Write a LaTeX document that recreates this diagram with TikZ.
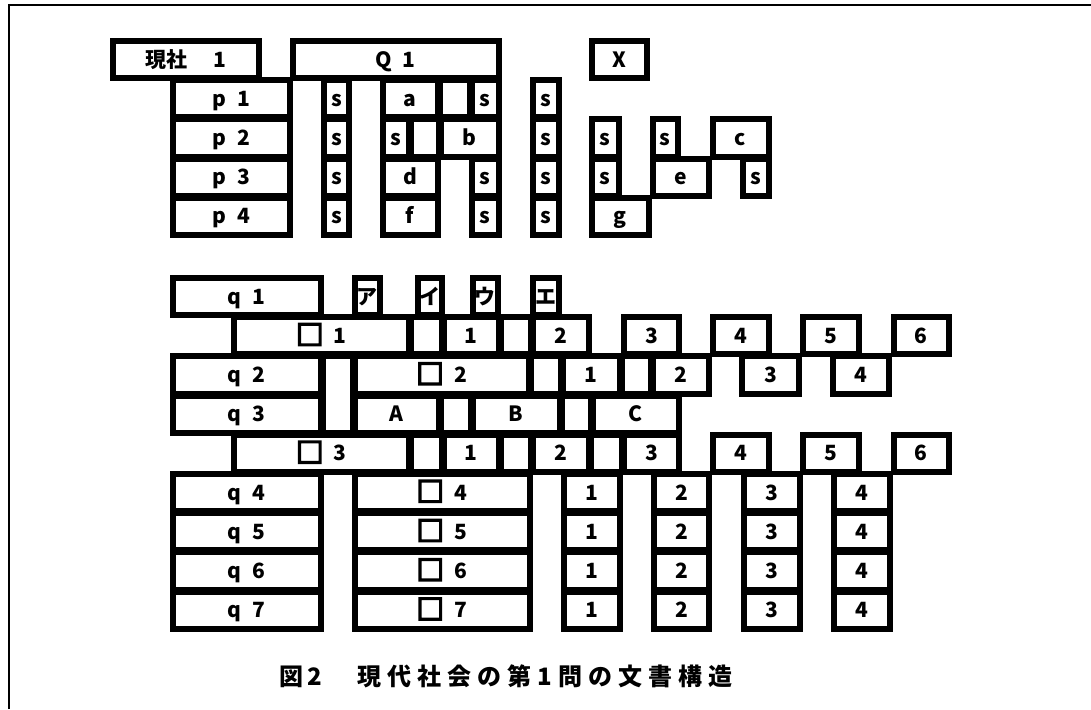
\documentclass[tikz,border=0pt]{standalone}
\usepackage{fontspec}
\setmainfont{Noto Sans CJK JP}
\newfontfamily\captionfont{Noto Sans CJK JP}[LetterSpace=25]
\newfontfamily\markfont{Noto Sans CJK JP}[FakeBold=8]
\newcommand{\sqmark}{{\markfont\mdseries\fontsize{27}{27}\selectfont\raisebox{-1.5pt}{□}}}
\tikzset{
    cell_box/.style={rectangle, draw=black, line width=6pt, inner sep=0pt, text centered, text height=15pt, text depth=0pt, font=\bfseries\fontsize{21}{21}\selectfont},
    cell_at/.style args={#1/#2/#3/#4}{at={({(#1+#3)/2},{(#2+#4)/2})}, minimum width={#3-#1-2}, minimum height={#4-#2-2}},
    frame_line/.style={line width=2pt},
    caption_text/.style={anchor=west, inner sep=0pt, font=\captionfont\bfseries\fontsize{24}{24}\selectfont},
}

\begin{document}
\begin{tikzpicture}[x=1pt, y=-1pt]
      \useasboundingbox (0,0) rectangle (1091,709);
      %%%%%%%%%
      % Frame %
      %%%%%%%%%
      \draw [frame_line] (8.5,709) -- (8.5,5) -- (1091,5);

      %%%%%%%%%%%%%
      % Upper row %
      %%%%%%%%%%%%%
      \node (gensha) [cell_box, cell_at={112/40/260/79.2}]
          {現社\hspace{26pt}1};
      \node (qone) [cell_box, cell_at={292/40/499.5/79.2}]
          {Q\enspace 1};
      \node (xbox) [cell_box, cell_at={590.5/40/648/79.2}]
          {X};

      \node (p1) [cell_box, cell_at={172/79.2/291/118.4}]
          {p\enspace 1};
      \node (p2) [cell_box, cell_at={172/118.4/291/157.6}]
          {p\enspace 2};
      \node (p3) [cell_box, cell_at={172/157.6/291/196.8}]
          {p\enspace 3};
      \node (p4) [cell_box, cell_at={172/196.8/291/236}]
          {p\enspace 4};

      \node (s11) [cell_box, cell_at={323/79.2/350/118.4}]
          {s};
      \node (s12) [cell_box, cell_at={323/118.4/350/157.6}]
          {s};
      \node (s13) [cell_box, cell_at={323/157.6/350/196.8}]
          {s};
      \node (s14) [cell_box, cell_at={323/196.8/350/236}]
          {s};

      % under Q 1
      \node (a) [cell_box, cell_at={381.5/79.2/438.5/118.4}]
          {a};
      \node (blank1) [cell_box, cell_at={438.5/79.2/470.5/118.4}]
          {};
      \node (s21) [cell_box, cell_at={470.5/79.2/499.5/118.4}]
          {s};
      \node (s22) [cell_box, cell_at={381.5/118.4/410/157.6}]
          {s};
      \node (blank2) [cell_box, cell_at={410/118.4/440/157.6}]
          {};
      \node (b) [cell_box, cell_at={440/118.4/499.5/157.6}]
          {b};
      \node (d) [cell_box, cell_at={381.5/157.6/438.5/196.8}]
          {d};
      \node (s23) [cell_box, cell_at={470.5/157.6/499.5/196.8}]
          {s};
      \node (f) [cell_box, cell_at={381.5/196.8/438.5/236}]
          {f};
      \node (s24) [cell_box, cell_at={470.5/196.8/499.5/236}]
          {s};

      \node (s31) [cell_box, cell_at={531.5/79.2/560/118.4}]
          {s};
      \node (s32) [cell_box, cell_at={531.5/118.4/560/157.6}]
          {s};
      \node (s33) [cell_box, cell_at={531.5/157.6/560/196.8}]
          {s};
      \node (s34) [cell_box, cell_at={531.5/196.8/560/236}]
          {s};

      % under X
      \node (s41) [cell_box, cell_at={590.5/118.4/620/157.6}]
          {s};
      \node (s42) [cell_box, cell_at={590.5/157.6/620/196.8}]
          {s};
      \node (g) [cell_box, cell_at={590.5/196.8/650/236}]
          {g};
      \node (s51) [cell_box, cell_at={651.5/118.4/678.5/157.6}]
          {s};
      \node (e) [cell_box, cell_at={651.5/157.6/709.5/196.8}]
          {e};
      \node (c) [cell_box, cell_at={711.5/118.4/769.5/157.6}]
          {c};
      \node (s61) [cell_box, cell_at={741.5/157.6/769.5/196.8}]
          {s};

      %%%%%%%%%%%%%
      % Lower row %
      %%%%%%%%%%%%%
      \node (q1) [cell_box, cell_at={171.5/277/321.5/316.2}]
          {q\enspace 1};
      \node (kata_a) [cell_box, cell_at={353.5/277/380.5/316.2}]
          {ア};
      \node (kata_i) [cell_box, cell_at={416.5/277/442.5/316.2}]
          {イ};
      \node (kata_u) [cell_box, cell_at={471.5/277/499/316.2}]
          {ウ};
      \node (kata_e) [cell_box, cell_at={532/277/559.5/316.2}]
          {エ};

      \node (box1) [cell_box, cell_at={233/316.2/410/355.4}]
          {\sqmark\enspace 1};
      \node (blank3) [cell_box, cell_at={410/316.2/442.5/355.4}]
          {};
      \node (n11) [cell_box, cell_at={442.5/316.2/500/355.4}]
          {1};
      \node (blank4) [cell_box, cell_at={500/316.2/531.5/355.4}]
          {};
      \node (n12) [cell_box, cell_at={531.5/316.2/590/355.4}]
          {2};
      \node (n13) [cell_box, cell_at={623/316.2/680/355.4}]
          {3};
      \node (n14) [cell_box, cell_at={712/316.2/770/355.4}]
          {4};
      \node (n15) [cell_box, cell_at={802/316.2/860/355.4}]
          {5};
      \node (n16) [cell_box, cell_at={892.5/316.2/950/355.4}]
          {6};

      \node (q2) [cell_box, cell_at={171.5/355.4/321.5/394.6}]
          {q\enspace 2};
      \node (blank5) [cell_box, cell_at={321.5/355.4/353.5/433.8}]
          {};
      \node (box2) [cell_box, cell_at={353.5/355.4/530/394.6}]
          {\sqmark\enspace 2};
      \node (blank6) [cell_box, cell_at={530/355.4/561.5/394.6}]
          {};
      \node (n21) [cell_box, cell_at={561.5/355.4/621/394.6}]
          {1};
      \node (blank7) [cell_box, cell_at={621/355.4/651.5/394.6}]
          {};
      \node (n22) [cell_box, cell_at={651.5/355.4/710/394.6}]
          {2};
      \node (n23) [cell_box, cell_at={741/355.4/800/394.6}]
          {3};
      \node (n24) [cell_box, cell_at={832/355.4/890/394.6}]
          {4};

      \node (q3) [cell_box, cell_at={171.5/394.6/321.5/433.8}]
          {q\enspace 3};
      \node (big_a) [cell_box, cell_at={353.5/394.6/440/433.8}]
          {A};
      \node (blank8) [cell_box, cell_at={440/394.6/471.5/433.8}]
          {};
      \node (big_b) [cell_box, cell_at={471.5/394.6/561/433.8}]
          {B};
      \node (blank9) [cell_box, cell_at={561/394.6/591.5/433.8}]
          {};
      \node (big_c) [cell_box, cell_at={591.5/394.6/680/433.8}]
          {C};

      \node (box3) [cell_box, cell_at={233/433.8/410/473}]
          {\sqmark\enspace 3};
      \node (blank10) [cell_box, cell_at={410/433.8/442.5/473}]
          {};
      \node (n31) [cell_box, cell_at={442.5/433.8/500/473}]
          {1};
      \node (blank11) [cell_box, cell_at={500/433.8/531.5/473}]
          {};
      \node (n32) [cell_box, cell_at={531.5/433.8/590/473}]
          {2};
      \node (blank12) [cell_box, cell_at={590/433.8/623/473}]
          {};
      \node (n33) [cell_box, cell_at={623/433.8/680/473}]
          {3};
      \node (n34) [cell_box, cell_at={712/433.8/770/473}]
          {4};
      \node (n35) [cell_box, cell_at={802/433.8/860/473}]
          {5};
      \node (n36) [cell_box, cell_at={892.5/433.8/950/473}]
          {6};

      % q 4 to q 7
      \node (q4) [cell_box, cell_at={171.5/473/321.5/512.2}]
          {q\enspace 4};
      \node (box4) [cell_box, cell_at={353.5/473/530.5/512.2}]
          {\sqmark\enspace 4};
      \node (n41) [cell_box, cell_at={563/473/620.5/512.2}]
          {1};
      \node (n42) [cell_box, cell_at={653/473/710/512.2}]
          {2};
      \node (n43) [cell_box, cell_at={742.5/473/800.5/512.2}]
          {3};
      \node (n44) [cell_box, cell_at={833/473/890.5/512.2}]
          {4};

      \node (q5) [cell_box, cell_at={171.5/512.2/321.5/551.4}]
          {q\enspace 5};
      \node (box5) [cell_box, cell_at={353.5/512.2/530.5/551.4}]
          {\sqmark\enspace 5};
      \node (n51) [cell_box, cell_at={563/512.2/620.5/551.4}]
          {1};
      \node (n52) [cell_box, cell_at={653/512.2/710/551.4}]
          {2};
      \node (n53) [cell_box, cell_at={742.5/512.2/800.5/551.4}]
          {3};
      \node (n54) [cell_box, cell_at={833/512.2/890.5/551.4}]
          {4};

      \node (q6) [cell_box, cell_at={171.5/551.4/321.5/590.6}]
          {q\enspace 6};
      \node (box6) [cell_box, cell_at={353.5/551.4/530.5/590.6}]
          {\sqmark\enspace 6};
      \node (n61) [cell_box, cell_at={563/551.4/620.5/590.6}]
          {1};
      \node (n62) [cell_box, cell_at={653/551.4/710/590.6}]
          {2};
      \node (n63) [cell_box, cell_at={742.5/551.4/800.5/590.6}]
          {3};
      \node (n64) [cell_box, cell_at={833/551.4/890.5/590.6}]
          {4};

      \node (q7) [cell_box, cell_at={171.5/590.6/321.5/629.8}]
          {q\enspace 7};
      \node (box7) [cell_box, cell_at={353.5/590.6/530.5/629.8}]
          {\sqmark\enspace 7};
      \node (n71) [cell_box, cell_at={563/590.6/620.5/629.8}]
          {1};
      \node (n72) [cell_box, cell_at={653/590.6/710/629.8}]
          {2};
      \node (n73) [cell_box, cell_at={742.5/590.6/800.5/629.8}]
          {3};
      \node (n74) [cell_box, cell_at={833/590.6/890.5/629.8}]
          {4};

      %%%%%%%%%%%
      % Caption %
      %%%%%%%%%%%
      \node (caption) [caption_text] at (279,676)
          {図\hspace{4pt}2\hspace{36pt}現代社会の第\hspace{6pt}1\hspace{6pt}問の文書構造};

\end{tikzpicture}
\end{document}
